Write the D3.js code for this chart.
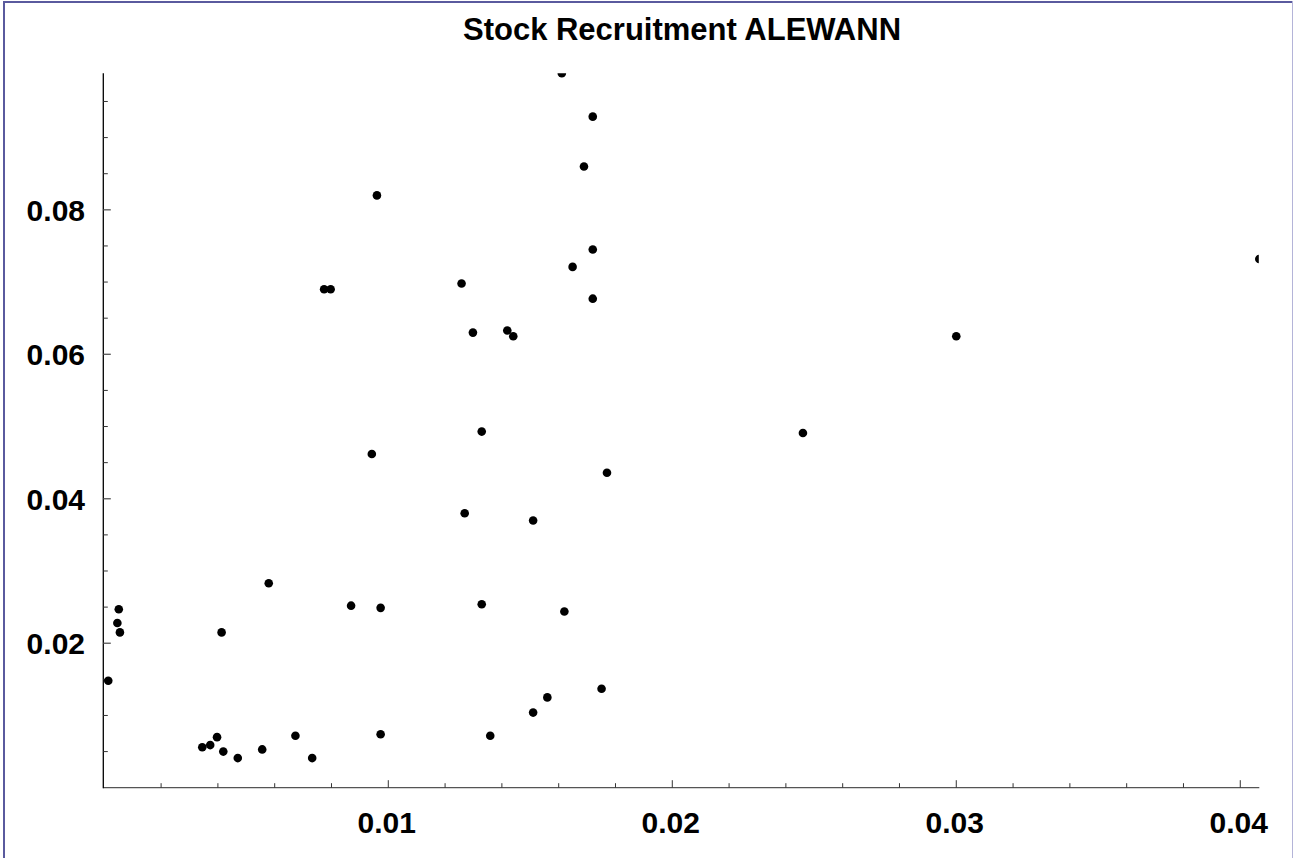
<!DOCTYPE html>
<html>
<head>
<meta charset="utf-8">
<script src="https://cdn.jsdelivr.net/npm/d3@7"></script>
<style>
  body { margin: 0; background: #fff; }
  svg { display: block; }
</style>
</head>
<body>
<div id="chart"></div>
<script>
// stock (x) and recruitment (y) values
var stock = [
  0.01611, 0.01720, 0.01689, 0.00960, 0.01720, 0.01649, 0.04067, 0.01258,
  0.00774, 0.00797, 0.01720, 0.01298, 0.01419, 0.01440, 0.03000, 0.01329,
  0.02460, 0.00942, 0.01770, 0.01269, 0.01510, 0.00579, 0.00051, 0.00046,
  0.00055, 0.00413, 0.00014, 0.00869, 0.00973, 0.01329, 0.01620, 0.01751,
  0.01560, 0.01510, 0.00973, 0.01359, 0.00345, 0.00373, 0.00397, 0.00419,
  0.00470, 0.00556, 0.00673, 0.00732
];
var recruitment = [
  0.0989, 0.0929, 0.0860, 0.0820, 0.0745, 0.0721, 0.0732, 0.0698,
  0.0690, 0.0690, 0.0677, 0.0630, 0.0633, 0.0625, 0.0625, 0.0493,
  0.0491, 0.0462, 0.0436, 0.0380, 0.0370, 0.0283, 0.0247, 0.0228,
  0.0215, 0.0215, 0.0148, 0.0252, 0.0249, 0.0254, 0.0244, 0.0137,
  0.0125, 0.0104, 0.0074, 0.0072, 0.0056, 0.0059, 0.0070, 0.0050,
  0.0041, 0.0053, 0.0072, 0.0041
];

var title = "Stock Recruitment ALEWANN";
var xTickLabels = [0.01, 0.02, 0.03, 0.04];
var yTickLabels = [0.02, 0.04, 0.06, 0.08];

var W = 1293, H = 858;
var margin = {top: 73.3, right: W - 1259.3, bottom: H - 787.7, left: 104.3},
    width = W - margin.left - margin.right,
    height = H - margin.top - margin.bottom;

var font = "'Liberation Sans', Arial, Helvetica, sans-serif";

var svg = d3.select("#chart").append("svg")
    .attr("width", W)
    .attr("height", H);

svg.append("rect").attr("width", W).attr("height", H).attr("fill", "#fff");

// frame round the picture
svg.append("line").attr("x1", 3).attr("x2", W).attr("y1", 2).attr("y2", 2)
    .attr("stroke", "#5a5a9e").attr("stroke-width", 2);
svg.append("line").attr("x1", 4).attr("x2", 4).attr("y1", 1).attr("y2", H)
    .attr("stroke", "#5a5a9e").attr("stroke-width", 2);
svg.append("line").attr("x1", 1292.5).attr("x2", 1292.5).attr("y1", 1).attr("y2", H)
    .attr("stroke", "#b4b4d8").attr("stroke-width", 1);

svg.append("text")
    .attr("x", 682).attr("y", 40)
    .attr("text-anchor", "middle")
    .style("font-family", font).style("font-weight", "bold").style("font-size", "31px")
    .text(title);

var g = svg.append("g")
    .attr("transform", "translate(" + margin.left + "," + margin.top + ")");

var x = d3.scaleLinear().domain([0, d3.max(stock)]).range([0, width]);
var y = d3.scaleLinear().domain([0, d3.max(recruitment)]).range([height, 0]);

// minor ticks
var xMinor = d3.range(0.002, d3.max(stock), 0.002).filter(function(v) {
  return Math.abs(v * 100 - Math.round(v * 100)) > 1e-6; });
var yMinor = d3.range(0.005, d3.max(recruitment), 0.005).filter(function(v) {
  return Math.abs(v * 50 - Math.round(v * 50)) > 1e-6; });

// x axis, ticks point up into the plot
var xAxis = g.append("g").attr("transform", "translate(0," + height + ")");
xAxis.append("line").attr("x1", -1).attr("x2", width)
    .attr("stroke", "#555").attr("stroke-width", 1.3);
xAxis.selectAll(".minor").data(xMinor).enter().append("line")
    .attr("x1", function(d) { return x(d); }).attr("x2", function(d) { return x(d); })
    .attr("y1", 0).attr("y2", -4.5).attr("stroke", "#333").attr("stroke-width", 1);
xAxis.selectAll(".major").data(xTickLabels).enter().append("line")
    .attr("x1", function(d) { return x(d); }).attr("x2", function(d) { return x(d); })
    .attr("y1", 0).attr("y2", -7.5).attr("stroke", "#333").attr("stroke-width", 1);
xAxis.selectAll(".lab").data(xTickLabels).enter().append("text")
    .attr("x", function(d) { return x(d) - 1.5; })
    .attr("y", 45.5)
    .attr("text-anchor", "middle")
    .style("font-family", font).style("font-weight", "bold").style("font-size", "30px")
    .text(function(d) { return d3.format(".2f")(d); });

// y axis, ticks point right into the plot
var yAxis = g.append("g").attr("transform", "translate(-1,0)");
yAxis.append("line").attr("y1", 0).attr("y2", height + 0.5)
    .attr("stroke", "#000").attr("stroke-width", 1.3);
yAxis.selectAll(".minor").data(yMinor).enter().append("line")
    .attr("y1", function(d) { return y(d); }).attr("y2", function(d) { return y(d); })
    .attr("x1", 0).attr("x2", 4.5).attr("stroke", "#333").attr("stroke-width", 1);
yAxis.selectAll(".major").data(yTickLabels).enter().append("line")
    .attr("y1", function(d) { return y(d); }).attr("y2", function(d) { return y(d); })
    .attr("x1", 0).attr("x2", 7.5).attr("stroke", "#555").attr("stroke-width", 1.3);
yAxis.selectAll(".lab").data(yTickLabels).enter().append("text")
    .attr("x", -18.3)
    .attr("y", function(d) { return y(d) + 11; })
    .attr("text-anchor", "end")
    .style("font-family", font).style("font-weight", "bold").style("font-size", "30px")
    .text(function(d) { return d3.format(".2f")(d); });

// clip the points to the plot area
g.append("clipPath").attr("id", "plotclip")
  .append("rect").attr("x", -1).attr("y", 0).attr("width", width + 0.5).attr("height", height);

g.append("g").attr("clip-path", "url(#plotclip)")
  .selectAll("circle")
  .data(d3.range(stock.length))
  .enter().append("circle")
    .attr("cx", function(i) { return x(stock[i]); })
    .attr("cy", function(i) { return y(recruitment[i]); })
    .attr("r", 4.3)
    .attr("fill", "#000");
</script>
</body>
</html>
